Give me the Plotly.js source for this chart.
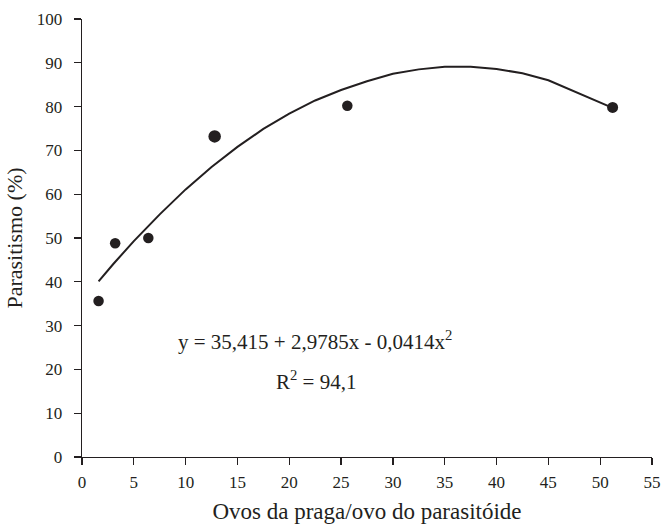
<!DOCTYPE html>
<html><head><meta charset="utf-8">
<script src="https://cdn.plot.ly/plotly-3.0.1.min.js"></script>
<style>body{margin:0;background:#fff}#c{width:662px;height:528px}</style>
</head><body><div id="c"></div>
<script>
var obsX = [1.6, 3.2, 6.4, 12.8, 25.6, 51.2];
var obsY = [35.6, 48.8, 50.0, 73.2, 80.2, 79.8];
var obsSize = [10.5, 10.5, 10.5, 12.5, 10.5, 11];
var fitX = [1.6, 3, 5, 7.5, 10, 12.5, 15, 17.5, 20, 22.5, 25, 27.5, 30, 32.5, 35, 37.5, 40, 42.5, 45, 47.5, 50, 51.2];
var fitY = [40.1, 44.0, 49.3, 55.4, 61.1, 66.2, 70.8, 74.9, 78.4, 81.4, 83.8, 85.8, 87.5, 88.5, 89.1, 89.1, 88.6, 87.6, 86.0, 83.5, 80.9, 79.7];
var xTicks = [0,5,10,15,20,25,30,35,40,45,50,55];
var yTicks = [0,10,20,30,40,50,60,70,80,90,100];
var eqText = 'y = 35,415 + 2,9785x - 0,0414x<sup>2</sup>';
var r2Text = 'R<sup>2</sup> = 94,1';
var xTitle = 'Ovos da praga/ovo do parasitóide';
var yTitle = 'Parasitismo (%)';

var ink = '#231f20';
var fam = 'Liberation Serif, serif';
function f(sz) { return {family: fam, size: sz, color: ink}; }

Plotly.newPlot('c', [
  {x: fitX, y: fitY, type: 'scatter', mode: 'lines', line: {color: ink, width: 2}, hoverinfo: 'skip'},
  {x: obsX, y: obsY, type: 'scatter', mode: 'markers', opacity: 1,
   marker: {color: ink, size: obsSize, opacity: 1, line: {width: 0}}}
], {
  width: 662, height: 528,
  margin: {l: 82, r: 10, t: 19, b: 71},
  paper_bgcolor: '#fff', plot_bgcolor: '#fff',
  showlegend: false,
  font: f(17),
  xaxis: {
    range: [0, 55], tickvals: xTicks, ticktext: xTicks.map(String),
    showline: true, linecolor: ink, linewidth: 1.3, showgrid: false, zeroline: false,
    ticks: 'outside', ticklen: 7, tickwidth: 1.3, tickcolor: ink,
    ticklabelstandoff: 2,
    tickfont: f(17),
    title: {text: xTitle, font: f(23), standoff: 12}
  },
  yaxis: {
    range: [0, 100], tickvals: yTicks, ticktext: yTicks.map(String),
    showline: true, linecolor: ink, linewidth: 1.3, showgrid: false, zeroline: false,
    ticks: 'outside', ticklen: 7, tickwidth: 1.3, tickcolor: ink,
    ticklabelstandoff: 8,
    tickfont: f(17),
    title: {text: yTitle, font: f(22), standoff: 8}
  },
  annotations: [
    {x: 0.409, y: 0.265, xref: 'paper', yref: 'paper', text: eqText, showarrow: false,
     font: f(21), xanchor: 'center', yanchor: 'middle'},
    {x: 0.41, y: 0.175, xref: 'paper', yref: 'paper', text: r2Text, showarrow: false,
     font: f(21), xanchor: 'center', yanchor: 'middle'}
  ]
}, {displayModeBar: false, staticPlot: true});
</script></body></html>
